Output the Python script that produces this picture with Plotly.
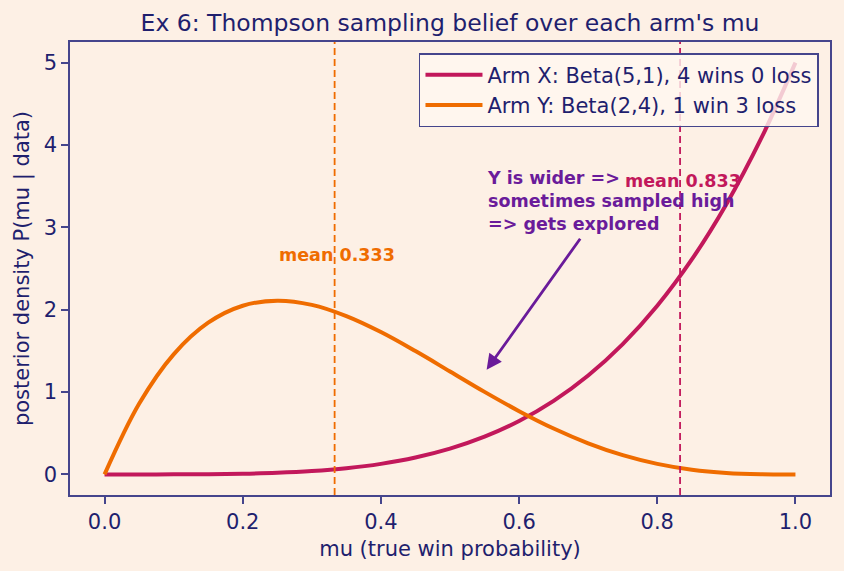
import plotly.graph_objects as go

mu = [0.0, 0.05, 0.1, 0.15, 0.2, 0.25, 0.3, 0.35, 0.4, 0.45, 0.5,
      0.55, 0.6, 0.65, 0.7, 0.75, 0.8, 0.85, 0.9, 0.95, 1.0]
arm_x = [0.0, 0.0, 0.0005, 0.0025, 0.008, 0.0195, 0.0405, 0.075, 0.128, 0.205, 0.3125,
         0.4575, 0.648, 0.8925, 1.2005, 1.582, 2.048, 2.61, 3.2805, 4.0725, 5.0]
arm_y = [0.0, 0.857, 1.458, 1.842, 2.048, 2.109, 2.058, 1.922, 1.728, 1.497, 1.25,
         1.002, 0.768, 0.557, 0.378, 0.234, 0.128, 0.057, 0.018, 0.0024, 0.0]
mean_x = 0.833
mean_y = 0.333
name_x = "Arm X: Beta(5,1), 4 wins 0 loss"
name_y = "Arm Y: Beta(2,4), 1 win 3 loss"

BG = "#fdf0e5"
NAVY = "#1f1f6e"
FRAME = "#45458c"
CRIMSON = "#c2185b"
ORANGE = "#ef6c00"
PURPLE = "#6a1b9a"
FONT = "DejaVu Sans"
FS = 21

fig = go.Figure()
fig.add_trace(go.Scatter(x=mu, y=arm_x, mode="lines", name=name_x,
                         line=dict(color=CRIMSON, width=4, shape="spline", smoothing=1.0)))
fig.add_trace(go.Scatter(x=mu, y=arm_y, mode="lines", name=name_y,
                         line=dict(color=ORANGE, width=4, shape="spline", smoothing=1.0)))

fig.add_vline(x=mean_y, line=dict(color=ORANGE, width=1.8, dash="7px,4px"))
fig.add_vline(x=mean_x, line=dict(color=CRIMSON, width=1.8, dash="7px,4px"))

fig.add_annotation(x=0.25, y=2.66, xref="x", yref="y", text="<b>mean 0.333</b>",
                   showarrow=False, xanchor="left", yanchor="middle",
                   font=dict(family=FONT, size=17.5, color=ORANGE))
fig.add_annotation(x=0.75, y=3.56, xref="x", yref="y", text="<b>mean 0.833</b>",
                   showarrow=False, xanchor="left", yanchor="middle",
                   font=dict(family=FONT, size=17.5, color=CRIMSON))
fig.add_annotation(x=0.55, y=3.32, xref="x", yref="y",
                   text="<b>Y is wider =></b><br><b>sometimes sampled high</b><br><b>=> gets explored</b>",
                   showarrow=False, xanchor="left", yanchor="middle", align="left",
                   font=dict(family=FONT, size=17.5, color=PURPLE))
fig.add_annotation(x=0.553, y=1.27, xref="x", yref="y", ax=0.69, ay=2.88,
                   axref="x", ayref="y", text="", showarrow=True,
                   arrowhead=2, arrowsize=1.1, arrowwidth=2.8, arrowcolor=PURPLE)

fig.update_layout(
    width=844, height=571,
    paper_bgcolor=BG, plot_bgcolor=BG,
    margin=dict(l=70, r=14, t=42, b=76),
    font=dict(family=FONT, size=FS, color=NAVY),
    title=dict(text="Ex 6: Thompson sampling belief over each arm's mu",
               x=0.5, xref="paper", xanchor="center",
               y=1 - 23 / 571, yref="container", yanchor="middle",
               font=dict(family=FONT, size=23.5, color=NAVY)),
    showlegend=True,
    legend=dict(x=0.9855, y=0.9757, xanchor="right", yanchor="top",
                bgcolor="rgba(255,248,240,0.8)", bordercolor=FRAME, borderwidth=1.5,
                font=dict(family=FONT, size=FS, color=NAVY),
                tracegroupgap=0, itemwidth=57),
)
fig.update_xaxes(range=[-0.05, 1.05], tickvals=[0, 0.2, 0.4, 0.6, 0.8, 1.0],
                 ticktext=["0.0", "0.2", "0.4", "0.6", "0.8", "1.0"],
                 showgrid=False, zeroline=False, showline=True, mirror=True,
                 linecolor=FRAME, linewidth=1.5, ticks="outside", ticklen=7, tickwidth=1.5,
                 tickcolor=FRAME, tickfont=dict(size=FS, color=NAVY), automargin=False,
                 title=dict(text="mu (true win probability)", font=dict(size=FS, color=NAVY),
                            standoff=8))
fig.update_yaxes(range=[-0.25, 5.25], tickvals=[0, 1, 2, 3, 4, 5],
                 showgrid=False, zeroline=False, showline=True, mirror=True,
                 linecolor=FRAME, linewidth=1.5, ticks="outside", ticklen=7, tickwidth=1.5,
                 tickcolor=FRAME, tickfont=dict(size=FS, color=NAVY), automargin=False,
                 title=dict(text="posterior density P(mu | data)", font=dict(size=FS, color=NAVY),
                            standoff=8))

fig.write_html("out.html")
